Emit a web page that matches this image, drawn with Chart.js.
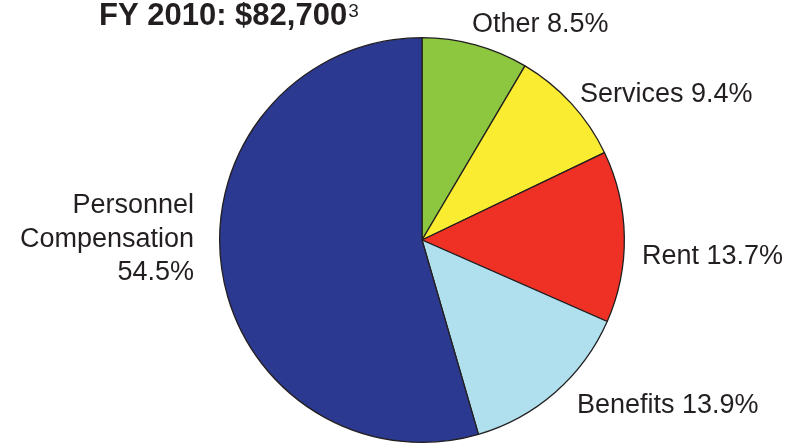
<!DOCTYPE html>
<html>
<head>
<meta charset="utf-8">
<script src="https://cdn.jsdelivr.net/npm/chart.js@4/dist/chart.umd.min.js"></script>
<style>
html,body{margin:0;padding:0;background:#fff;}
#wrap{width:799px;height:444px;position:relative;}
</style>
</head>
<body>
<div id="wrap"><canvas id="c" width="799" height="444"></canvas></div>
<script>
/* FY 2010 spending breakdown pie */
const cats=['Other','Services','Rent','Benefits','Personnel Compensation'];
const shares=[8.5,9.4,13.7,13.9,54.5];
const sliceCols=['#8dc63f','#f9ec31','#ee3124','#b0dfee','#2b3990'];
const titleMain='FY 2010: $82,700';
const titleNote='3';

const ink='#231f20';
const font="'Liberation Sans', Arial, sans-serif";

// label anchors: [x, baseline y, align], personnel label wraps over 3 lines
const labelPos={
  'Other':[472,32,'left'],
  'Services':[580,102,'left'],
  'Rent':[642,264,'left'],
  'Benefits':[577,413,'left'],
  'Personnel Compensation':[194,213,'right']
};

const textPlug={
  id:'textPlug',
  afterDraw(ch){
    const ctx=ch.ctx;
    ctx.save();
    ctx.fillStyle=ink;
    ctx.textBaseline='alphabetic';
    // title + superscript
    ctx.font="bold 31px "+font;
    ctx.textAlign='left';
    ctx.fillText(titleMain,99,25);
    const w=ctx.measureText(titleMain).width;
    ctx.font="19px "+font;
    ctx.fillText(titleNote,99+w+1,17);
    // slice labels
    ctx.font="27px "+font;
    cats.forEach((c,i)=>{
      const p=labelPos[c];if(!p)return;
      ctx.textAlign=p[2];
      const pct=shares[i].toFixed(1)+'%';
      if(c==='Personnel Compensation'){
        ['Personnel','Compensation',pct].forEach((t,k)=>ctx.fillText(t,p[0],p[1]+k*33.5));
      }else{
        ctx.fillText(c+' '+pct,p[0],p[1]);
      }
    });
    ctx.restore();
  }
};

new Chart(document.getElementById('c'),{
  type:'pie',
  data:{labels:cats,datasets:[{data:shares,backgroundColor:sliceCols,borderColor:ink,borderWidth:1.3}]},
  options:{
    responsive:false,animation:false,
    layout:{padding:{top:37,bottom:1,left:145,right:100}},
    plugins:{legend:{display:false},tooltip:{enabled:false},title:{display:false}}
  },
  plugins:[textPlug]
});
</script>
</body>
</html>
